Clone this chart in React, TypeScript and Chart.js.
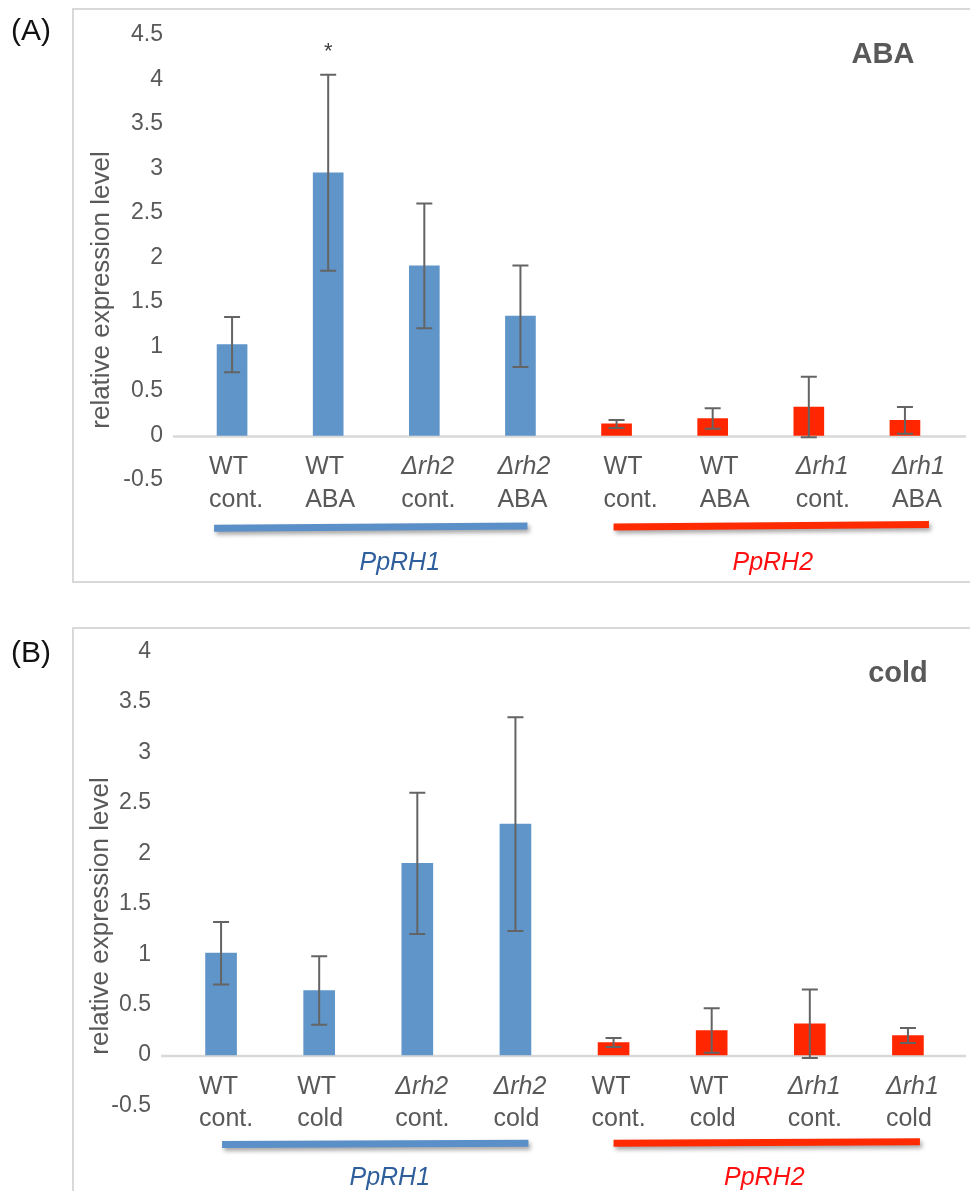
import React, { useEffect, useRef } from 'react';
import { Chart, registerables } from 'chart.js';

Chart.register(...registerables);

// ---------- data ----------
const categoryTop = ['WT', 'WT', 'Δrh2', 'Δrh2', 'WT', 'WT', 'Δrh1', 'Δrh1'];
const categoryBottomA = ['cont.', 'ABA', 'cont.', 'ABA', 'cont.', 'ABA', 'cont.', 'ABA'];
const categoryBottomB = ['cont.', 'cold', 'cont.', 'cold', 'cont.', 'cold', 'cont.', 'cold'];
const geneGroups = ['PpRH1', 'PpRH2'];
const groupOfCategory = [0, 0, 0, 0, 1, 1, 1, 1];

const valuesA = [1.02, 2.95, 1.905, 1.34, 0.13, 0.19, 0.32, 0.17];
const errorsA = [0.31, 1.1, 0.7, 0.57, 0.045, 0.115, 0.34, 0.15];
const valuesB = [1.01, 0.64, 1.9, 2.29, 0.124, 0.243, 0.31, 0.193];
const errorsB = [0.31, 0.34, 0.7, 1.06, 0.045, 0.22, 0.34, 0.075];

const yTicksA = [-0.5, 0, 0.5, 1, 1.5, 2, 2.5, 3, 3.5, 4, 4.5];
const yTicksB = [-0.5, 0, 0.5, 1, 1.5, 2, 2.5, 3, 3.5, 4];

const significantA = [false, true, false, false, false, false, false, false];
const significantB = [false, false, false, false, false, false, false, false];

// ---------- styles ----------
const FONT = '"Liberation Sans", Arial, Helvetica, sans-serif';
const TEXT = '#595959';
const BAR_BLUE = '#5f95c8';
const BAR_RED = '#ff2600';
const GROUP_LINE = ['#5b8fc8', '#ff2a00'];
const GROUP_TEXT = ['#2f5e9c', '#ff1010'];
const AXIS_GRAY = '#d9d9d9';
const ERR = '#646464';

type Panel = {
  letter: string;
  condition: string;
  bottoms: string[];
  values: number[];
  errors: number[];
  ticks: number[];
  sig: boolean[];
  height: number;
  yMin: number;
  yMax: number;
  pad: { left: number; right: number; top: number; bottom: number };
  yAxisWidth: number;
  barThickness: number;
  frame: { x: number; y: number; bottom: number };
  zeroLine: [number, number];
  letterY: number;
  condX: number;
  condY: number;
  titleX: number;
  titleY: number;
  labelBaselines: [number, number];
  labelIndent: number[];
  underlineY: [number, number][];
  underlineDx: [number, number][];
  groupLabelY: number;
  groupLabelDx: number[];
  asteriskY: number;
};

const panelA: Panel = {
  letter: '(A)',
  condition: 'ABA',
  bottoms: categoryBottomA,
  values: valuesA,
  errors: errorsA,
  ticks: yTicksA,
  sig: significantA,
  height: 600,
  yMin: -0.5,
  yMax: 4.5,
  pad: { left: 0, right: 17, top: 32, bottom: 120 },
  yAxisWidth: 184,
  barThickness: 30,
  frame: { x: 73, y: 9, bottom: 582 },
  zeroLine: [173, 966],
  letterY: 39.5,
  condX: 883,
  condY: 63,
  titleX: 109,
  titleY: 290,
  labelBaselines: [474, 507],
  labelIndent: [23, 13],
  underlineY: [[528.3, 526], [527, 524.5]],
  underlineDx: [[-18, 7], [-3, 24]],
  groupLabelY: 570,
  groupLabelDx: [29, 1.5],
  asteriskY: 58,
};

const panelB: Panel = {
  letter: '(B)',
  condition: 'cold',
  bottoms: categoryBottomB,
  values: valuesB,
  errors: errorsB,
  ticks: yTicksB,
  sig: significantB,
  height: 591,
  yMin: -0.5,
  yMax: 4,
  pad: { left: 0, right: 13, top: 51.7, bottom: 85.6 },
  yAxisWidth: 172,
  barThickness: 31,
  frame: { x: 73, y: 28, bottom: 620 },
  zeroLine: [161, 966],
  letterY: 61.5,
  condX: 898,
  condY: 81.7,
  titleX: 108,
  titleY: 316,
  labelBaselines: [493.5, 526],
  labelIndent: [22, 22],
  underlineY: [[544.5, 543.3], [543.3, 541.8]],
  underlineDx: [[1, 13], [0, 12]],
  groupLabelY: 585,
  groupLabelDx: [14.5, -2.5],
  asteriskY: 58,
};

function makePlugin(p: Panel) {
  return {
    id: 'decor',
    beforeDatasetsDraw(chart: any) {
      const ctx = chart.ctx;
      const y = chart.scales.y;
      // frame
      ctx.save();
      ctx.strokeStyle = AXIS_GRAY;
      ctx.lineWidth = 2;
      ctx.beginPath();
      ctx.moveTo(980, p.frame.y);
      ctx.lineTo(p.frame.x, p.frame.y);
      ctx.lineTo(p.frame.x, p.frame.bottom);
      ctx.lineTo(980, p.frame.bottom);
      ctx.stroke();
      // zero line
      const y0 = y.getPixelForValue(0);
      ctx.lineWidth = 2.5;
      ctx.beginPath();
      ctx.moveTo(p.zeroLine[0], y0 + 1);
      ctx.lineTo(p.zeroLine[1], y0 + 1);
      ctx.stroke();
      ctx.restore();
    },
    afterDatasetsDraw(chart: any) {
      const ctx = chart.ctx;
      const y = chart.scales.y;
      const meta = chart.getDatasetMeta(0);
      ctx.save();
      ctx.strokeStyle = ERR;
      ctx.lineWidth = 2;
      p.values.forEach((v, i) => {
        const x = meta.data[i].x;
        const hi = y.getPixelForValue(v + p.errors[i]);
        const lo = y.getPixelForValue(v - p.errors[i]);
        ctx.beginPath();
        ctx.moveTo(x, hi);
        ctx.lineTo(x, lo);
        ctx.moveTo(x - 8, hi);
        ctx.lineTo(x + 8, hi);
        ctx.moveTo(x - 8, lo);
        ctx.lineTo(x + 8, lo);
        ctx.stroke();
        if (p.sig[i]) {
          ctx.fillStyle = '#404040';
          ctx.font = `22px ${FONT}`;
          ctx.textAlign = 'center';
          ctx.textBaseline = 'alphabetic';
          ctx.fillText('*', x, p.asteriskY);
        }
      });
      ctx.restore();
    },
    afterDraw(chart: any) {
      const ctx = chart.ctx;
      const meta = chart.getDatasetMeta(0);
      ctx.save();
      ctx.textBaseline = 'alphabetic';
      // panel letter
      ctx.fillStyle = '#111111';
      ctx.font = `30px ${FONT}`;
      ctx.textAlign = 'left';
      ctx.fillText(p.letter, 11, p.letterY);
      // condition
      ctx.fillStyle = TEXT;
      ctx.font = `bold 29px ${FONT}`;
      ctx.textAlign = 'center';
      ctx.fillText(p.condition, p.condX, p.condY);
      // y title
      ctx.save();
      ctx.translate(p.titleX, p.titleY);
      ctx.rotate(-Math.PI / 2);
      ctx.font = `26px ${FONT}`;
      ctx.textAlign = 'center';
      ctx.fillText('relative expression level', 0, 0);
      ctx.restore();
      // category labels
      ctx.textAlign = 'left';
      categoryTop.forEach((top, i) => {
        const x = meta.data[i].x - p.labelIndent[groupOfCategory[i]];
        ctx.fillStyle = TEXT;
        ctx.font = `${top.startsWith('Δ') ? 'italic ' : ''}25px ${FONT}`;
        ctx.fillText(top, x, p.labelBaselines[0]);
        ctx.font = `25px ${FONT}`;
        ctx.fillText(p.bottoms[i], x, p.labelBaselines[1]);
      });
      // group underlines + labels
      geneGroups.forEach((g, gi) => {
        const idx = groupOfCategory.map((c, i) => (c === gi ? i : -1)).filter((i) => i >= 0);
        const x0 = meta.data[idx[0]].x + p.underlineDx[gi][0];
        const x1 = meta.data[idx[idx.length - 1]].x + p.underlineDx[gi][1];
        ctx.save();
        ctx.shadowColor = 'rgba(0,0,0,0.35)';
        ctx.shadowBlur = 4;
        ctx.shadowOffsetX = 2;
        ctx.shadowOffsetY = 3;
        ctx.strokeStyle = GROUP_LINE[gi];
        ctx.lineWidth = 7;
        ctx.lineCap = 'butt';
        ctx.beginPath();
        ctx.moveTo(x0, p.underlineY[gi][0]);
        ctx.lineTo(x1, p.underlineY[gi][1]);
        ctx.stroke();
        ctx.restore();
        ctx.fillStyle = GROUP_TEXT[gi];
        ctx.font = `italic 25px ${FONT}`;
        ctx.textAlign = 'center';
        ctx.fillText(g, (x0 + x1) / 2 + p.groupLabelDx[gi], p.groupLabelY);
      });
      ctx.restore();
    },
  };
}

function PanelChart({ p }: { p: Panel }) {
  const ref = useRef<HTMLCanvasElement | null>(null);
  useEffect(() => {
    if (!ref.current) return;
    const chart = new Chart(ref.current, {
      type: 'bar',
      data: {
        labels: categoryTop.map((t, i) => `${t} ${p.bottoms[i]}`),
        datasets: [
          {
            data: p.values,
            backgroundColor: groupOfCategory.map((g) => (g === 0 ? BAR_BLUE : BAR_RED)),
            borderWidth: 0,
            barThickness: p.barThickness,
          },
        ],
      },
      options: {
        responsive: false,
        animation: false,
        devicePixelRatio: 1,
        layout: { padding: p.pad },
        plugins: { legend: { display: false }, tooltip: { enabled: false }, title: { display: false } },
        scales: {
          x: { display: false, offset: true },
          y: {
            min: p.yMin,
            max: p.yMax,
            afterBuildTicks: (scale: any) => {
              scale.ticks = p.ticks.map((v) => ({ value: v }));
            },
            afterFit: (scale: any) => {
              scale.width = p.yAxisWidth;
            },
            grid: { display: false, drawTicks: false },
            border: { display: false },
            ticks: {
              padding: 21,
              color: TEXT,
              font: { family: FONT, size: 23 },
              callback: (v: any) => String(Number(v)),
            },
          },
        },
      },
      plugins: [makePlugin(p)],
    } as any);
    return () => chart.destroy();
  }, [p]);
  return <canvas ref={ref} width={970} height={p.height} style={{ display: 'block', width: 970, height: p.height }} />;
}

export default function App() {
  return (
    <div style={{ position: 'absolute', left: 0, top: 0, width: 970, height: 1191, background: '#ffffff', overflow: 'hidden' }}>
      <PanelChart p={panelA} />
      <PanelChart p={panelB} />
    </div>
  );
}
